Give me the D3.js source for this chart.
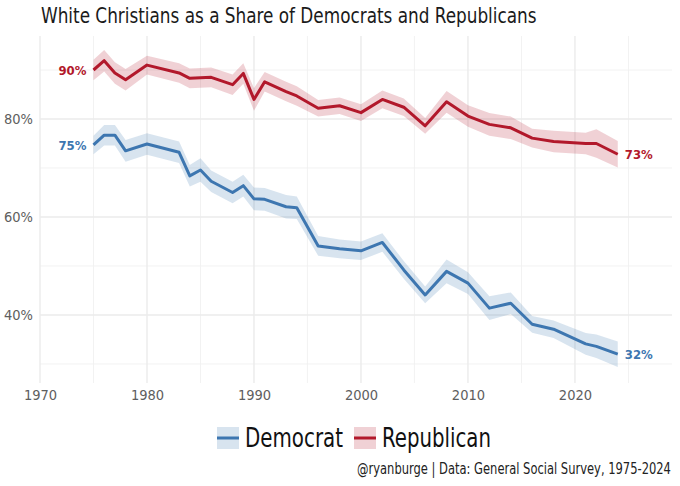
<!DOCTYPE html>
<html>
<head>
<meta charset="utf-8">
<script src="https://cdn.jsdelivr.net/npm/d3@7"></script>
<style>
body { margin: 0; background: #fff; }
text { font-family: "DejaVu Sans", sans-serif; font-stretch: condensed; }
</style>
</head>
<body>
<div id="chart"></div>
<script>
// survey years and shares (percent)
var years = [1975, 1976, 1977, 1978, 1980, 1983, 1984, 1985, 1986, 1988, 1989, 1990, 1991, 1993, 1994,
    1996, 1998, 2000, 2002, 2004, 2006, 2008, 2010, 2012, 2014, 2016, 2018, 2021, 2022, 2024];
var demShare = [74.7, 76.7, 76.7, 73.5, 74.9, 73.2, 68.4, 69.6, 67.3, 65.0, 66.4, 63.7, 63.6, 62.1, 61.9,
    54.1, 53.5, 53.1, 54.8, 49.2, 44.1, 48.9, 46.5, 41.4, 42.4, 38.1, 37.1, 34.1, 33.6, 32.0];
var demMoe = [1.9, 2.1, 2.1, 2.2, 2.2, 2.2, 2.2, 2.4, 2.2, 2.2, 2.2, 2.3, 2.3, 2.4, 2.3,
    2.0, 1.9, 1.9, 1.9, 1.8, 1.7, 2.4, 2.2, 2.4, 2.2, 1.7, 1.8, 2.2, 2.4, 2.6];
var repShare = [90.0, 91.9, 89.4, 88.0, 91.0, 89.4, 88.3, 88.4, 88.5, 87.0, 89.3, 84.0, 87.6, 85.6, 84.7,
    82.2, 82.7, 81.3, 84.0, 82.4, 78.6, 83.5, 80.6, 78.9, 78.2, 76.1, 75.4, 75.0, 75.0, 72.8];
var repMoe = [2.1, 2.2, 2.2, 2.2, 1.9, 2.0, 2.0, 2.0, 2.0, 2.1, 2.1, 2.3, 2.0, 2.0, 2.0,
    1.7, 1.7, 1.7, 1.8, 1.8, 1.6, 2.2, 2.2, 2.3, 2.3, 1.9, 2.2, 2.2, 2.9, 2.7];
var seriesNames = ["Democrat", "Republican"];
var xTicks = [1970, 1980, 1990, 2000, 2010, 2020];
var xMinorTicks = [1975, 1985, 1995, 2005, 2015, 2025];
var yTicks = [40, 60, 80];
var yMinorTicks = [30, 50, 70, 90];
var chartTitle = "White Christians as a Share of Democrats and Republicans";
var chartCaption = "@ryanburge | Data: General Social Survey, 1975-2024";

var width = 680, height = 486;
var margin = { top: 36, right: 8, bottom: 103, left: 40 };

var svg = d3.select("#chart").append("svg")
    .attr("width", width)
    .attr("height", height);

var x = d3.scaleLinear().domain([1970, 2029.07]).range([margin.left, width - margin.right]);
var y = d3.scaleLinear().domain([26.12, 96.94]).range([height - margin.bottom, margin.top]);

var series = [
    { name: seriesNames[0], values: demShare, moe: demMoe, color: "#3d76b0", legendWidth: 98 },
    { name: seriesNames[1], values: repShare, moe: repMoe, color: "#b2182b", legendWidth: 109 }
];

// squeeze a text horizontally to a given width (the original font is narrower)
function fitText(g, str, size, targetWidth) {
    var t = g.append("text").attr("font-size", size).text(str);
    var w = t.node().getComputedTextLength();
    t.attr("transform", "scale(" + (targetWidth / w) + ",1)");
    return t;
}

// grid lines, minor first
var grid = svg.append("g");
grid.selectAll(".xminor").data(xMinorTicks).enter().append("line")
    .attr("x1", x).attr("x2", x)
    .attr("y1", margin.top).attr("y2", height - margin.bottom)
    .attr("stroke", "#f1f1f1").attr("stroke-width", 0.9);
grid.selectAll(".yminor").data(yMinorTicks).enter().append("line")
    .attr("x1", margin.left).attr("x2", width - margin.right)
    .attr("y1", y).attr("y2", y)
    .attr("stroke", "#f1f1f1").attr("stroke-width", 0.9);
grid.selectAll(".xmajor").data(xTicks).enter().append("line")
    .attr("x1", x).attr("x2", x)
    .attr("y1", margin.top).attr("y2", height - margin.bottom)
    .attr("stroke", "#ebebeb").attr("stroke-width", 1.4);
grid.selectAll(".ymajor").data(yTicks).enter().append("line")
    .attr("x1", margin.left).attr("x2", width - margin.right)
    .attr("y1", y).attr("y2", y)
    .attr("stroke", "#ebebeb").attr("stroke-width", 1.4);

// axes (labels only)
var xAxis = svg.append("g")
    .attr("transform", "translate(0," + (height - margin.bottom) + ")")
    .call(d3.axisBottom(x).tickValues(xTicks).tickFormat(d3.format("d")).tickSize(0).tickPadding(7));
var yAxis = svg.append("g")
    .attr("transform", "translate(" + margin.left + ",0)")
    .call(d3.axisLeft(y).tickValues(yTicks).tickFormat(function (d) { return d + "%"; }).tickSize(0).tickPadding(7));
[xAxis, yAxis].forEach(function (ax) {
    ax.select(".domain").remove();
    ax.selectAll("text")
        .style("font-family", "'DejaVu Sans', sans-serif")
        .style("font-stretch", "condensed")
        .style("font-size", "14.5px")
        .attr("fill", "#5e5e5e");
});

// ribbons and lines
var area = d3.area()
    .x(function (d) { return x(d.year); })
    .y0(function (d) { return y(d.value - d.moe); })
    .y1(function (d) { return y(d.value + d.moe); });
var line = d3.line()
    .x(function (d) { return x(d.year); })
    .y(function (d) { return y(d.value); });

series.forEach(function (s) {
    s.points = years.map(function (yr, i) {
        return { year: yr, value: s.values[i], moe: s.moe[i] };
    });
});

svg.append("g").selectAll("path").data(series).enter().append("path")
    .attr("d", function (s) { return area(s.points); })
    .attr("fill", function (s) { return s.color; })
    .attr("fill-opacity", 0.2);

svg.append("g").selectAll("path").data(series).enter().append("path")
    .attr("d", function (s) { return line(s.points); })
    .attr("fill", "none")
    .attr("stroke", function (s) { return s.color; })
    .attr("stroke-width", 3)
    .attr("stroke-linejoin", "round");

// start and end labels
series.forEach(function (s) {
    var first = s.points[0], last = s.points[s.points.length - 1];
    svg.append("text")
        .attr("x", x(first.year) - 7).attr("y", y(first.value))
        .attr("dy", "0.35em").attr("text-anchor", "end")
        .attr("fill", s.color).attr("font-weight", "bold").attr("font-size", 13)
        .text(Math.round(first.value) + "%");
    svg.append("text")
        .attr("x", x(last.year) + 7).attr("y", y(last.value))
        .attr("dy", "0.35em").attr("text-anchor", "start")
        .attr("fill", s.color).attr("font-weight", "bold").attr("font-size", 13)
        .text(Math.round(last.value) + "%");
});

// title and caption
var titleG = svg.append("g").attr("transform", "translate(41,23)");
fitText(titleG, chartTitle, 21, 496).attr("fill", "#1a1a1a");
var captionG = svg.append("g").attr("transform", "translate(357,474)");
fitText(captionG, chartCaption, 15, 314).attr("fill", "#222");

// legend
var legend = svg.append("g");
var lx = 217;
series.forEach(function (s) {
    var item = legend.append("g").attr("transform", "translate(" + lx + ",427)");
    item.append("rect").attr("width", 22).attr("height", 22)
        .attr("fill", s.color).attr("fill-opacity", 0.2);
    item.append("line").attr("x1", 0).attr("x2", 22).attr("y1", 11).attr("y2", 11)
        .attr("stroke", s.color).attr("stroke-width", 3);
    var tg = item.append("g").attr("transform", "translate(28,20)");
    fitText(tg, s.name, 26, s.legendWidth).attr("fill", "#111");
    lx += 28 + s.legendWidth + 11;
});
</script>
</body>
</html>
